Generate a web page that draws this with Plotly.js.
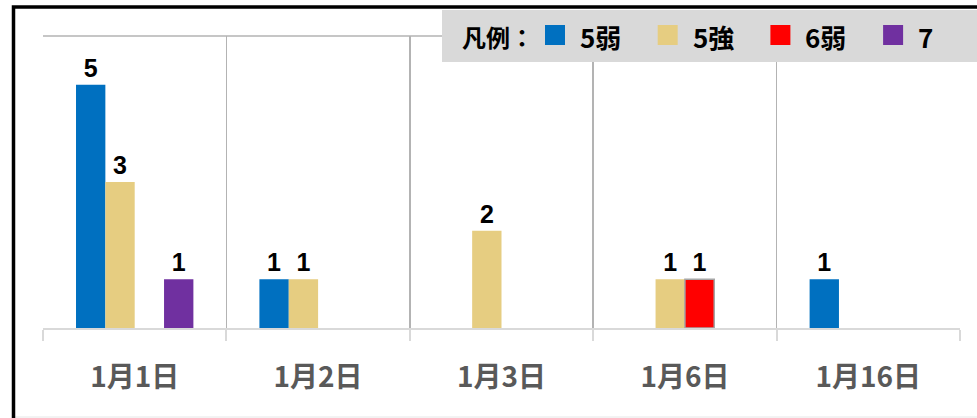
<!DOCTYPE html>
<html>
<head>
<meta charset="utf-8">
<script src="https://cdn.plot.ly/plotly-3.0.1.min.js"></script>
<style>
  html, body { margin: 0; padding: 0; background: #ffffff; }
  #chart { width: 977px; height: 418px; }
</style>
</head>
<body>
<div id="chart"></div>
<script>
// ---- data ----
const categories = ['1月1日', '1月2日', '1月3日', '1月6日', '1月16日'];
const seriesNames = ['5弱', '5強', '6弱', '7'];
const values5jaku = [5, 1, null, null, 1];
const values5kyo  = [3, 1, 2, 1, null];
const values6jaku = [null, null, null, 1, null];
const values7     = [1, null, null, null, null];
const legendTitle = '凡例：';

const seriesValues = [values5jaku, values5kyo, values6jaku, values7];
const seriesColors = ['#0070C0', '#E6CD81', '#FF0000', '#7030A0'];
const seriesLines = [
  {width: 0},
  {width: 0},
  {width: 1.5, color: '#A6A6A6'},
  {width: 0}
];

// ---- layout geometry ----
const W = 977, H = 418;
const M = {l: 43, r: 17, t: 36, b: 90};
const PW = W - M.l - M.r, PH = H - M.t - M.b;
const px = x => (x - M.l) / PW;        // pixel -> paper x
const py = y => (H - M.b - y) / PH;    // pixel -> paper y

const traces = seriesNames.map((name, i) => ({
  type: 'bar',
  name: name,
  x: categories,
  y: seriesValues[i],
  text: seriesValues[i].map(v => v == null ? '' : String(v)),
  textposition: 'outside',
  constraintext: 'none',
  cliponaxis: false,
  textfont: {family: 'Liberation Sans, Arial, sans-serif', size: 25, color: '#000000', weight: 'bold'},
  marker: {color: seriesColors[i], line: seriesLines[i]},
  hoverinfo: 'skip'
}));

// custom legend (box + swatches + labels)
const shapes = [];
const annotations = [];

// plot-area top border
shapes.push({type: 'line', xref: 'paper', yref: 'paper', x0: 0, x1: 1, y0: 1, y1: 1,
  line: {color: '#B3B3B3', width: 1.5}, layer: 'below'});

// legend box
shapes.push({type: 'rect', xref: 'paper', yref: 'paper',
  x0: px(442), x1: px(990), y0: py(62), y1: py(10),
  fillcolor: '#D9D9D9', line: {width: 0}, layer: 'above'});

annotations.push({xref: 'paper', yref: 'paper', x: px(460), y: py(36),
  xanchor: 'left', yanchor: 'middle', showarrow: false, text: legendTitle,
  font: {family: 'Noto Sans CJK JP, sans-serif', size: 24, color: '#000000', weight: 'bold'}});

const legendStart = 545, legendStep = 112.7, sw = 20;
seriesNames.forEach((name, i) => {
  const x0 = legendStart + i * legendStep;
  shapes.push({type: 'rect', xref: 'paper', yref: 'paper',
    x0: px(x0), x1: px(x0 + sw), y0: py(45), y1: py(25),
    fillcolor: seriesColors[i], line: {width: 0}, layer: 'above'});
  annotations.push({xref: 'paper', yref: 'paper', x: px(x0 + 33), y: py(36),
    xanchor: 'left', yanchor: 'middle', showarrow: false, text: name,
    font: {family: 'Noto Sans CJK JP, sans-serif', size: 26, color: '#000000', weight: 'bold'}});
});

// outer chart frame
shapes.push({type: 'rect', xref: 'paper', yref: 'paper',
  x0: px(13.5), x1: px(1000), y0: py(440), y1: py(7),
  line: {color: '#000000', width: 3.5}, fillcolor: 'rgba(0,0,0,0)', layer: 'above'});
shapes.push({type: 'line', xref: 'paper', yref: 'paper',
  x0: px(15), x1: px(977), y0: py(417), y1: py(417),
  line: {color: '#E6E6E6', width: 1}, layer: 'below'});

const layout = {
  width: W, height: H,
  margin: M,
  paper_bgcolor: '#ffffff',
  plot_bgcolor: '#ffffff',
  showlegend: false,
  barmode: 'group',
  bargap: 0.36,
  bargroupgap: 0,
  xaxis: {
    type: 'category',
    tickson: 'boundaries',
    showgrid: true,
    gridcolor: '#B3B3B3',
    gridwidth: 1.5,
    showline: true,
    linecolor: '#D9D9D9',
    linewidth: 2,
    ticks: 'outside',
    ticklen: 11,
    tickwidth: 2,
    tickcolor: '#D9D9D9',
    ticklabelstandoff: 23,
    tickfont: {family: 'Noto Sans CJK JP, sans-serif', size: 28, color: '#595959', weight: 'bold'},
    fixedrange: true
  },
  yaxis: {
    range: [0, 6],
    visible: false,
    showgrid: false,
    zeroline: false,
    fixedrange: true
  },
  shapes: shapes,
  annotations: annotations
};

Plotly.newPlot('chart', traces, layout, {displayModeBar: false, staticPlot: true});
</script>
</body>
</html>
